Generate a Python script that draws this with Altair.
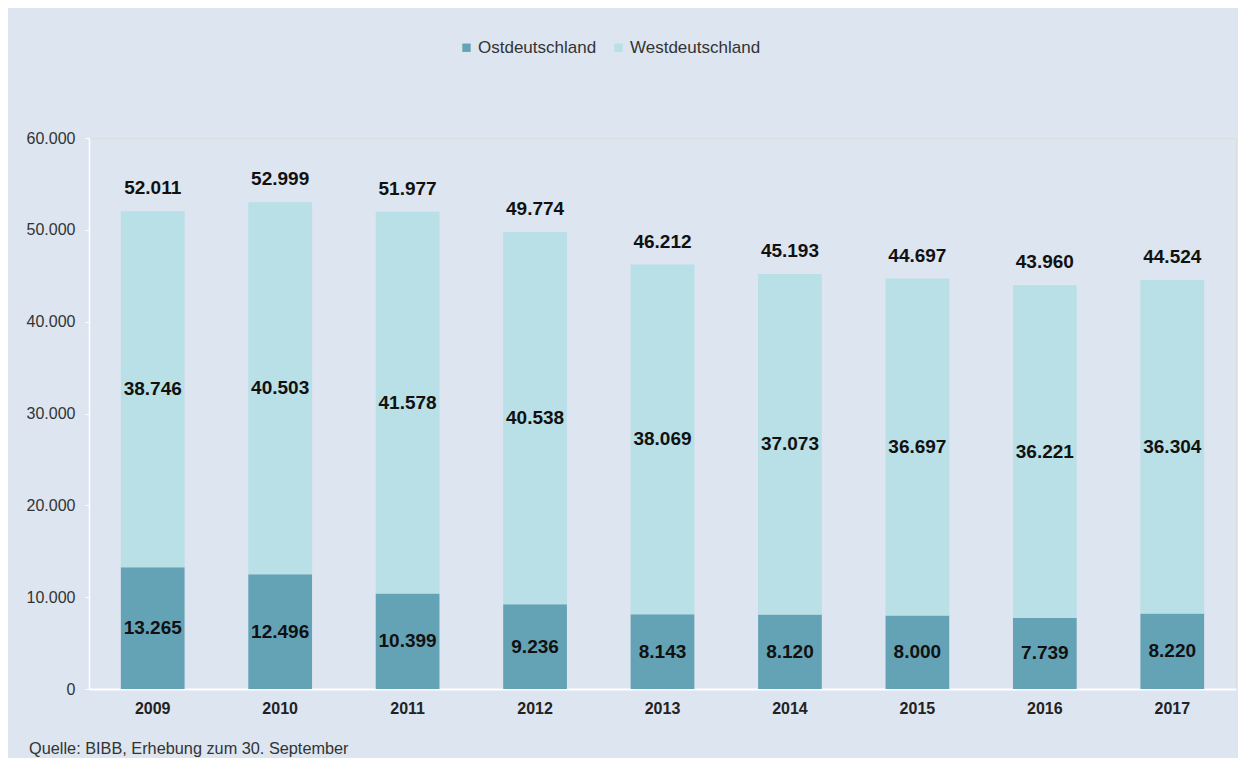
import altair as alt
import pandas as pd

years = ["2009", "2010", "2011", "2012", "2013", "2014", "2015", "2016", "2017"]
ost = [13265, 12496, 10399, 9236, 8143, 8120, 8000, 7739, 8220]
west = [38746, 40503, 41578, 40538, 38069, 37073, 36697, 36221, 36304]
totals = [52011, 52999, 51977, 49774, 46212, 45193, 44697, 43960, 44524]
regions = ["Ostdeutschland", "Westdeutschland"]
colors = ["#64a3b6", "#b9dfe7"]
source_text = "Quelle: BIBB, Erhebung zum 30. September"


def de(n):
    return f"{n:,}".replace(",", ".")


rows = []
for i, y in enumerate(years):
    rows.append({"year": y, "region": regions[0], "value": ost[i], "order": 0, "label": de(ost[i])})
    rows.append({"year": y, "region": regions[1], "value": west[i], "order": 1, "label": de(west[i])})
df = pd.DataFrame(rows)
tot = pd.DataFrame({"year": years, "total": totals, "label": [de(t) for t in totals]})

FONT = "Liberation Sans, Arial, Helvetica, sans-serif"

xenc = alt.X(
    "year:N",
    sort=years,
    scale=alt.Scale(paddingInner=0.5, paddingOuter=0.25),
    axis=alt.Axis(
        title=None, labelAngle=0, ticks=False, labelFontWeight="bold",
        labelFontSize=16, labelColor="#222222", labelPadding=11,
        domainColor="#ffffff", domainWidth=2,
    ),
)
yscale = alt.Scale(domain=[0, 60000])

bars = alt.Chart(df).mark_bar().encode(
    x=xenc,
    y=alt.Y(
        "value:Q",
        stack="zero",
        scale=yscale,
        axis=alt.Axis(
            title=None, grid=False, values=[0, 10000, 20000, 30000, 40000, 50000, 60000],
            labelExpr="datum.value == 0 ? '0' : replace(format(datum.value, ','), ',', '.')",
            labelFontSize=16, labelColor="#333333", labelPadding=10,
            tickColor="#ffffff", tickSize=4, domainColor="#ffffff", domainWidth=1.5,
        ),
    ),
    color=alt.Color(
        "region:N",
        scale=alt.Scale(domain=regions, range=colors),
        legend=alt.Legend(
            title=None, orient="none", direction="horizontal",
            legendX=369, legendY=-99, symbolType="square", symbolSize=70,
            symbolStrokeWidth=0, labelFontSize=17, labelColor="#333333",
            labelOffset=3, columnPadding=13, padding=0,
        ),
    ),
    order=alt.Order("order:Q"),
)

seg_labels = alt.Chart(df).transform_stack(
    stack="value", groupby=["year"], as_=["v0", "v1"], sort=[alt.SortField("order")]
).transform_calculate(
    mid="(datum.v0 + datum.v1) / 2"
).mark_text(
    fontSize=19, fontWeight="bold", color="#111111", baseline="middle"
).encode(
    x=alt.X("year:N", sort=years),
    y=alt.Y("mid:Q", scale=yscale),
    text="label:N",
)

tot_labels = alt.Chart(tot).mark_text(
    fontSize=19, fontWeight="bold", color="#111111", baseline="bottom", dy=-13
).encode(
    x=alt.X("year:N", sort=years),
    y=alt.Y("total:Q", scale=yscale),
    text="label:N",
)

chart = alt.layer(bars, seg_labels, tot_labels).properties(
    width=1147,
    height=551,
    autosize=alt.AutoSizeParams(type="none"),
    padding={"left": 81, "top": 130, "right": 2, "bottom": 69},
    background="#dce5f0",
    title=alt.TitleParams(
        source_text, orient="bottom", anchor="start", dx=3, offset=25,
        fontSize=16.3, fontWeight="normal", color="#333333", font=FONT,
    ),
).configure_view(
    fill="#e0e8f2", stroke="#ffffff", strokeWidth=1.5
).configure(font=FONT)

chart.save("out.html", embed_options={"renderer": "svg", "actions": False})
